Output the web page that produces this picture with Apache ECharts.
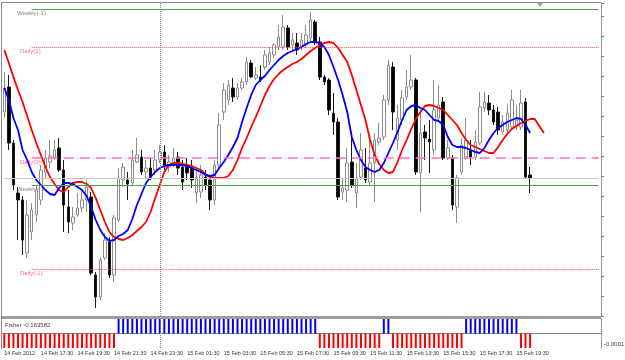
<!DOCTYPE html>
<html>
<head>
    <meta charset="utf-8">
    <title>M15 candles + Fisher</title>
    <script src="https://cdn.jsdelivr.net/npm/echarts@6/dist/echarts.min.js"></script>
</head>
<body style="margin:0;background:#fff">
<div id="main" style="width:625px;height:360px;"></div>
<script type="text/javascript">
// candles: [open, close, low, high]
var ohlc = [
[1.3184,1.3208,1.3178,1.3224],[1.3209,1.3153,1.3146,1.3221],[1.3153,1.3111,1.3106,1.3156],[1.3103,1.3096,1.3056,1.3109],
[1.3096,1.3056,1.3041,1.3100],[1.3043,1.3081,1.3038,1.3096],[1.3064,1.3086,1.3056,1.3093],[1.3081,1.3106,1.3074,1.3111],
[1.3096,1.3126,1.3091,1.3131],[1.3124,1.3138,1.3118,1.3146],[1.3134,1.3140,1.3128,1.3156],[1.3138,1.3146,1.3136,1.3156],
[1.3148,1.3126,1.3124,1.3158],[1.3126,1.3091,1.3064,1.3136],[1.3089,1.3074,1.3063,1.3106],[1.3073,1.3079,1.3066,1.3089],
[1.3081,1.3088,1.3079,1.3103],[1.3088,1.3096,1.3084,1.3106],[1.3096,1.3109,1.3084,1.3116],[1.3099,1.3023,1.3021,1.3104],
[1.3021,1.2999,1.2988,1.3024],[1.2999,1.3036,1.2996,1.3039],[1.3038,1.3056,1.3036,1.3063],[1.3054,1.3021,1.3018,1.3059],
[1.3021,1.3078,1.3014,1.3081],[1.3076,1.3118,1.3074,1.3128],[1.3116,1.3129,1.3109,1.3133],[1.3116,1.3112,1.3096,1.3124],
[1.3113,1.3136,1.3111,1.3146],[1.3134,1.3141,1.3133,1.3158],[1.3139,1.3124,1.3121,1.3146],[1.3124,1.3128,1.3118,1.3136],
[1.3128,1.3119,1.3116,1.3138],[1.3126,1.3136,1.3121,1.3146],[1.3136,1.3144,1.3133,1.3151],[1.3144,1.3129,1.3126,1.3151],
[1.3129,1.3134,1.3124,1.3141],[1.3133,1.3138,1.3129,1.3148],[1.3139,1.3128,1.3121,1.3144],[1.3129,1.3114,1.3106,1.3136],
[1.3129,1.3123,1.3116,1.3138],[1.3128,1.3116,1.3108,1.3136],[1.3103,1.3119,1.3093,1.3126],[1.3104,1.3121,1.3098,1.3131],
[1.3119,1.3111,1.3106,1.3126],[1.3116,1.3096,1.3086,1.3121],[1.3096,1.3131,1.3091,1.3136],[1.3131,1.3171,1.3128,1.3183],
[1.3184,1.3206,1.3176,1.3213],[1.3196,1.3211,1.3191,1.3216],[1.3208,1.3199,1.3194,1.3218],[1.3199,1.3208,1.3196,1.3213],
[1.3208,1.3214,1.3206,1.3218],[1.3214,1.3234,1.3211,1.3239],[1.3233,1.3219,1.3218,1.3236],[1.3218,1.3221,1.3216,1.3229],
[1.3219,1.3216,1.3214,1.3231],[1.3229,1.3241,1.3226,1.3246],[1.3234,1.3243,1.3231,1.3249],[1.3241,1.3251,1.3238,1.3253],
[1.3249,1.3259,1.3246,1.3271],[1.3249,1.3269,1.3246,1.3281],[1.3268,1.3249,1.3246,1.3271],[1.3251,1.3256,1.3246,1.3263],
[1.3253,1.3246,1.3241,1.3263],[1.3249,1.3256,1.3246,1.3263],[1.3251,1.3261,1.3248,1.3271],[1.3258,1.3276,1.3254,1.3284],
[1.3274,1.3254,1.3251,1.3276],[1.3254,1.3219,1.3216,1.3259],[1.3219,1.3214,1.3211,1.3221],[1.3216,1.3186,1.3181,1.3218],
[1.3183,1.3174,1.3161,1.3203],[1.3174,1.3099,1.3096,1.3178],[1.3104,1.3108,1.3096,1.3118],[1.3106,1.3133,1.3094,1.3148],
[1.3134,1.3111,1.3108,1.3164],[1.3103,1.3118,1.3088,1.3133],[1.3119,1.3146,1.3116,1.3163],[1.3128,1.3116,1.3113,1.3148],
[1.3114,1.3133,1.3111,1.3156],[1.3133,1.3156,1.3094,1.3163],[1.3154,1.3158,1.3151,1.3173],[1.3159,1.3196,1.3156,1.3201],
[1.3196,1.3231,1.3191,1.3236],[1.3229,1.3184,1.3166,1.3234],[1.3156,1.3178,1.3146,1.3191],[1.3176,1.3198,1.3171,1.3206],
[1.3199,1.3209,1.3196,1.3226],[1.3209,1.3216,1.3206,1.3241],[1.3216,1.3124,1.3121,1.3218],[1.3123,1.3163,1.3084,1.3186],
[1.3164,1.3158,1.3136,1.3171],[1.3157,1.3154,1.3123,1.3176],[1.3146,1.3186,1.3141,1.3216],[1.3178,1.3191,1.3174,1.3211],
[1.3194,1.3138,1.3136,1.3199],[1.3138,1.3148,1.3136,1.3156],[1.3138,1.3091,1.3086,1.3141],[1.3089,1.3118,1.3073,1.3121],
[1.3124,1.3151,1.3121,1.3158],[1.3139,1.3156,1.3136,1.3178],[1.3146,1.3139,1.3131,1.3156],[1.3139,1.3154,1.3136,1.3166],
[1.3153,1.3189,1.3151,1.3204],[1.3188,1.3194,1.3184,1.3204],[1.3193,1.3186,1.3181,1.3201],[1.3186,1.3174,1.3171,1.3191],
[1.3184,1.3166,1.3161,1.3189],[1.3164,1.3174,1.3161,1.3181],[1.3166,1.3183,1.3163,1.3191],[1.3169,1.3196,1.3166,1.3206],
[1.3169,1.3176,1.3166,1.3191],[1.3169,1.3193,1.3166,1.3206],[1.3194,1.3119,1.3118,1.3198],[1.3121,1.3118,1.3103,1.3129]
];

// fast moving average (blue)
var maFast = [
1.3208,1.3196,1.3178,1.3166,1.3146,1.3136,1.3124,1.3116,1.3111,1.3106,1.3102,1.3101,1.3108,1.3113,1.3113,1.3112,
1.3109,1.3106,1.3100,1.3089,1.3076,1.3066,1.3059,1.3055,1.3056,1.3060,1.3062,1.3066,1.3077,1.3091,1.3102,1.3113,
1.3119,1.3124,1.3128,1.3130,1.3131,1.3131,1.3131,1.3131,1.3130,1.3128,1.3126,1.3124,1.3121,1.3120,1.3121,1.3128,
1.3134,1.3141,1.3149,1.3158,1.3174,1.3188,1.3201,1.3211,1.3216,1.3220,1.3226,1.3231,1.3236,1.3240,1.3243,1.3245,
1.3247,1.3249,1.3252,1.3254,1.3254,1.3253,1.3249,1.3241,1.3229,1.3216,1.3201,1.3184,1.3159,1.3146,1.3136,1.3129,
1.3126,1.3124,1.3126,1.3133,1.3143,1.3153,1.3164,1.3176,1.3186,1.3190,1.3191,1.3188,1.3186,1.3181,1.3176,1.3175,
1.3171,1.3159,1.3151,1.3149,1.3149,1.3148,1.3146,1.3144,1.3143,1.3148,1.3156,1.3163,1.3168,1.3171,1.3174,1.3176,
1.3178,1.3177,1.3171,1.3163
];

// slow moving average (red), shifted 3 bars forward
var maSlow = [
1.3246,1.3233,1.3219,1.3206,1.3194,1.3180,1.3166,1.3153,1.3141,1.3129,1.3119,1.3112,1.3106,1.3104,1.3109,1.3113,
1.3114,1.3114,1.3112,1.3108,1.3098,1.3086,1.3074,1.3064,1.3059,1.3057,1.3056,1.3058,1.3061,1.3065,1.3069,1.3074,
1.3084,1.3098,1.3111,1.3124,1.3131,1.3133,1.3133,1.3132,1.3131,1.3130,1.3128,1.3126,1.3122,1.3119,1.3118,1.3118,
1.3118,1.3120,1.3126,1.3136,1.3148,1.3158,1.3169,1.3179,1.3190,1.3201,1.3210,1.3217,1.3222,1.3226,1.3229,1.3232,
1.3234,1.3237,1.3241,1.3245,1.3248,1.3251,1.3253,1.3254,1.3253,1.3248,1.3241,1.3234,1.3221,1.3206,1.3191,1.3176,
1.3156,1.3141,1.3132,1.3126,1.3123,1.3124,1.3134,1.3146,1.3156,1.3167,1.3177,1.3184,1.3190,1.3191,1.3190,1.3188,
1.3186,1.3181,1.3176,1.3171,1.3163,1.3156,1.3151,1.3149,1.3147,1.3145,1.3143,1.3143,1.3149,1.3156,1.3162,1.3167,
1.3170,1.3173,1.3175,1.3177,1.3177,1.3170,1.3163
];

// Fisher histogram (clipped at the panel edge: +1 blue, -1 red)
var fisher = [
-1,-1,-1,-1,-1,-1,-1,-1,-1,-1,-1,-1,-1,-1,-1,-1,-1,-1,-1,-1,-1,-1,-1,-1,-1,
1,1,1,1,1,1,1,1,1,1,1,1,1,1,1,1,1,1,1,1,1,1,1,1,1,1,1,1,1,1,1,1,1,1,1,1,1,1,1,1,1,1,1,1,
-1,-1,-1,-1,-1,-1,-1,-1,-1,-1,-1,-1,-1,-1,
1,1,
-1,-1,-1,-1,-1,-1,-1,-1,-1,-1,-1,-1,-1,-1,-1,-1,
1,1,1,1,1,1,1,1,1,1,1,1,
-1,-1,-1
];

// horizontal levels
var levelNames = ['Weekly(-1)', 'Daily(1)', 'Daily(0)', 'Weekly(0)', 'Daily(-1)'];
var levelValues = [1.32865, 1.32485, 1.3138, 1.3111, 1.3027];

// time axis labels, one every 8 bars
var tickLabels = ['14 Feb 2012', '14 Feb 17:30', '14 Feb 19:30', '14 Feb 21:30', '14 Feb 23:30',
    '15 Feb 01:30', '15 Feb 03:30', '15 Feb 05:30', '15 Feb 07:30', '15 Feb 09:30',
    '15 Feb 11:30', '15 Feb 13:30', '15 Feb 15:30', '15 Feb 17:30', '15 Feb 19:30'];

var slotCount = 131;
var cats = [];
for (var i = 0; i < slotCount; i++) {
    var t = 15 * 60 + 30 + 15 * i;
    var d = 14 + Math.floor(t / 1440);
    var m = t % 1440;
    var hh = Math.floor(m / 60), mm = m % 60;
    cats.push('2012.02.' + d + ' ' + (hh < 10 ? '0' : '') + hh + ':' + (mm < 10 ? '0' : '') + mm);
}
var sepIndex = 34; // 15 Feb 00:00
var lastClose = ohlc[ohlc.length - 1][1];

var font = 'Liberation Sans';

function levelStyle(name) {
    if (name.indexOf('Weekly') === 0) return {color: '#4f9f4f', width: 1, type: 'solid'};
    if (name === 'Daily(0)') return {color: '#ff6fb5', width: 1.5, type: [10, 6]};
    return {color: '#ff4a4a', width: 1, type: 'dotted'};
}

var lineMarks = [];
// current price line across the whole chart
lineMarks.push([
    {coord: [cats[0], lastClose], lineStyle: {color: '#c8c8c8', width: 1, type: 'solid'}},
    {coord: [cats[slotCount - 1], lastClose]}
]);
for (var k = 0; k < levelNames.length; k++) {
    lineMarks.push([
        {coord: [cats[6], levelValues[k]], lineStyle: levelStyle(levelNames[k])},
        {coord: [cats[slotCount - 1], levelValues[k]]}
    ]);
}
lineMarks.push({xAxis: cats[sepIndex], lineStyle: {color: '#8a8a8a', width: 1, type: 'dotted'}});

var myChart = echarts.init(document.getElementById('main'));

var option = {
    animation: false,
    backgroundColor: '#ffffff',
    grid: [
        {left: 2, top: 3, width: 599, height: 313},
        {left: 2, top: 319, width: 599, height: 29}
    ],
    xAxis: [
        {type: 'category', gridIndex: 0, data: cats,
         axisLine: {show: false}, axisTick: {show: false}, axisLabel: {show: false}, splitLine: {show: false}},
        {type: 'category', gridIndex: 1, data: cats,
         axisLine: {lineStyle: {color: '#808080'}},
         axisTick: {alignWithLabel: true, interval: 7, length: 3, lineStyle: {color: '#808080'}},
         axisLabel: {interval: 7, align: 'left', margin: 2, fontSize: 5.5, color: '#333', fontFamily: font,
             formatter: function (v, idx) { return tickLabels[idx / 8] || ''; }},
         splitLine: {show: false}}
    ],
    yAxis: [
        {type: 'value', gridIndex: 0, position: 'right', min: 1.2980, max: 1.3293, interval: 0.0020,
         axisLine: {show: true, lineStyle: {color: '#808080', type: 'dotted'}},
         axisTick: {show: true, length: 3, lineStyle: {color: '#808080'}},
         axisLabel: {show: false}, splitLine: {show: false}},
        {type: 'value', gridIndex: 1, position: 'right', min: -1, max: 1,
         axisLine: {show: true, lineStyle: {color: '#808080', type: 'dotted'}},
         axisTick: {show: false}, axisLabel: {show: false}, splitLine: {show: false}}
    ],
    series: [
        {
            type: 'candlestick', xAxisIndex: 0, yAxisIndex: 0, data: ohlc, barWidth: 3,
            itemStyle: {color: '#ffffff', color0: '#000000', borderColor: '#8c8c8c', borderColor0: '#1a1a1a', borderWidth: 1},
            markLine: {silent: true, symbol: ['none', 'none'], label: {show: false}, data: lineMarks}
        },
        {
            type: 'line', xAxisIndex: 0, yAxisIndex: 0, data: maSlow, symbol: 'none',
            lineStyle: {color: '#ff0000', width: 1.8}, z: 3
        },
        {
            type: 'line', xAxisIndex: 0, yAxisIndex: 0, data: maFast, symbol: 'none',
            lineStyle: {color: '#0000ff', width: 1.8}, z: 4
        },
        {
            type: 'bar', xAxisIndex: 1, yAxisIndex: 1, data: fisher, barWidth: 2,
            itemStyle: {color: function (p) { return p.value > 0 ? '#0000ff' : '#ff0000'; }},
            markLine: {silent: true, symbol: ['none', 'none'], label: {show: false},
                data: [{xAxis: cats[sepIndex], lineStyle: {color: '#8a8a8a', width: 1, type: 'dotted'}}]}
        }
    ]
};

myChart.setOption(option);

// frame, panel separator and texts
var g = [
    {type: 'rect', shape: {x: 2, y: 2, width: 599, height: 1}, style: {fill: '#8a8a8a'}},
    {type: 'rect', shape: {x: 1, y: 2, width: 1, height: 347}, style: {fill: '#8a8a8a'}},
    {type: 'rect', shape: {x: 2, y: 316, width: 599, height: 3}, style: {fill: '#9c9c9c'}},
    {type: 'polygon', shape: {points: [[537, 3], [543, 3], [540, 7]]}, style: {fill: '#a0a0a0'}},
    {type: 'text', x: 5, y: 322, style: {text: 'Fisher -0.163582', fill: '#404040', fontSize: 6, fontFamily: font}},
    {type: 'text', x: 604, y: 341, style: {text: '-0.0001', fill: '#404040', fontSize: 6, fontFamily: font}}
];
for (var n = 0; n < levelNames.length; n++) {
    var py = myChart.convertToPixel({yAxisIndex: 0}, levelValues[n]);
    var weekly = levelNames[n].indexOf('Weekly') === 0;
    g.push({type: 'text', x: weekly ? 17 : 20, y: py + 1,
        style: {text: levelNames[n], fill: weekly ? '#7c8c7c' : '#ff6a8c', fontSize: 6, fontFamily: font}});
}
myChart.setOption({graphic: g});
</script>
</body>
</html>
